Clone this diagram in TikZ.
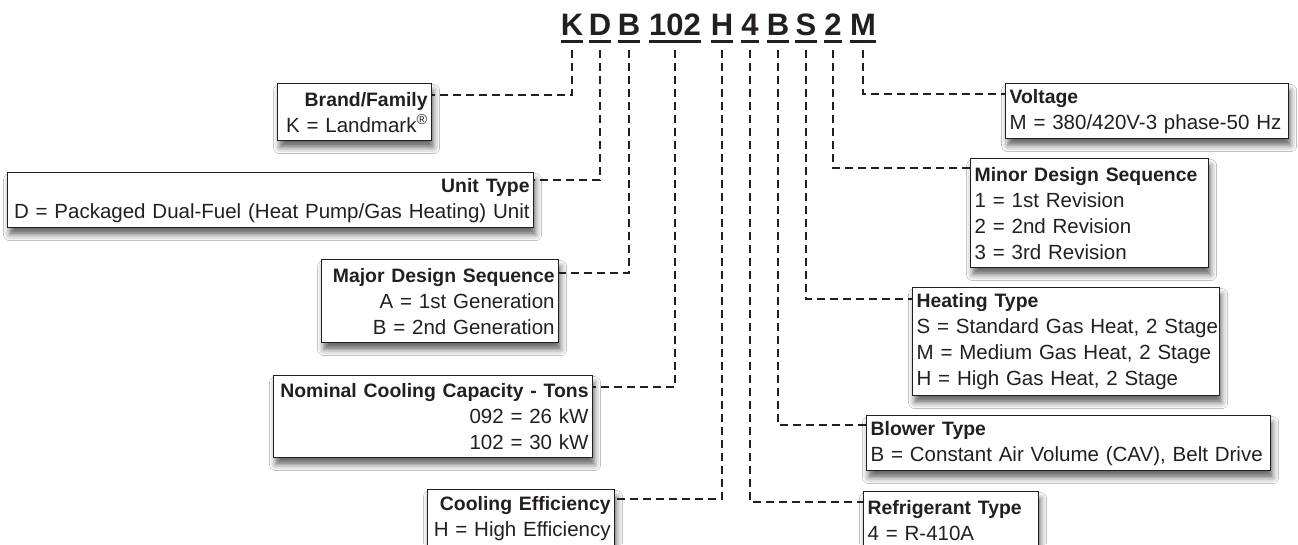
\documentclass[tikz,border=0pt]{standalone}
\usepackage{fontspec}
\setmainfont{Liberation Sans}
\usepackage{tikz}
\tikzset{x=1pt,y=-1pt}
\usetikzlibrary{calc, shadows.blur}

\definecolor{ink}{HTML}{231F20}
\newcommand{\hd}[1]{\mbox{\bfseries\fontsize{19.4}{26}\selectfont #1}}
\newcommand{\tln}[1]{\mbox{#1}}

\tikzset{
  code/.style={font=\bfseries\fontsize{31}{31}\selectfont, text=ink, inner sep=0pt, anchor=base},
  uline/.style={draw=ink, line width=3pt},
  leader/.style={draw=ink, line width=2.4pt, dash pattern=on 8pt off 5pt},
  box/.style={draw=ink, line width=1.2pt, fill=white, text=ink,
    inner xsep=4pt, inner ysep=2pt, anchor=north west,
    font=\fontsize{20.5}{26}\selectfont,
    blur shadow={shadow xshift=2pt, shadow yshift=-7pt, shadow blur radius=6pt, shadow opacity=60}},
  lbox/.style={box, align=right},
  rbox/.style={box, align=left}
}

\begin{document}
\begin{tikzpicture}
\path[use as bounding box, fill=white] (0,0) rectangle (1298,544);

% model number
\node[code] (cK) at (572,35) {K};
\node[code] (cD) at (600,35) {D};
\node[code] (cB) at (629,35) {B};
\node[code] (cNum) at (675,35) {102};
\node[code] (cH) at (722,35) {H};
\node[code] (cFour) at (750,35) {4};
\node[code] (cBl) at (778,35) {B};
\node[code] (cS) at (806,35) {S};
\node[code] (cTwo) at (833,35) {2};
\node[code] (cM) at (863,35) {M};
\foreach \c in {cK,cD,cB,cNum,cH,cFour,cBl,cS,cTwo,cM}
  \draw[uline] ([yshift=-6pt]\c.base west) -- ([yshift=-6pt]\c.base east);

% left side
\node[lbox, text width=146pt, minimum height=57pt] (brand) at (277,83)
  {\hd{Brand/Family}\\ \tln{K = Landmark\textsuperscript{®}}};
\node[lbox, text width=518pt, minimum height=55pt] (unit) at (7,172)
  {\hd{Unit Type}\\ \tln{D = Packaged Dual-Fuel (Heat Pump/Gas Heating) Unit}};
\node[lbox, text width=229pt, minimum height=83pt] (major) at (321,259)
  {\hd{Major Design Sequence}\\ \tln{A = 1st Generation}\\ \tln{B = 2nd Generation}};
\node[lbox, text width=311pt, minimum height=82pt] (nominal) at (273,375)
  {\hd{Nominal Cooling Capacity - Tons}\\ \tln{092 = 26 kW}\\ \tln{102 = 30 kW}};
\node[lbox, text width=179pt, minimum height=57pt] (cooling) at (427,489)
  {\hd{Cooling Efficiency}\\ \tln{H = High Efficiency}};

% right side
\node[rbox, text width=275pt, minimum height=55pt] (voltage) at (1005,83)
  {\hd{Voltage}\\ \tln{M = 380/420V-3 phase-50 Hz}};
\node[rbox, text width=230pt, minimum height=109pt] (minor) at (970,158)
  {\hd{Minor Design Sequence}\\ \tln{1 = 1st Revision}\\ \tln{2 = 2nd Revision}\\ \tln{3 = 3rd Revision}};
\node[rbox, text width=299pt, minimum height=108pt] (heating) at (912,287)
  {\hd{Heating Type}\\ \tln{S = Standard Gas Heat, 2 Stage}\\ \tln{M = Medium Gas Heat, 2 Stage}\\ \tln{H = High Gas Heat, 2 Stage}};
\node[rbox, text width=396pt, minimum height=55pt] (blower) at (866,415)
  {\hd{Blower Type}\\ \tln{B = Constant Air Volume (CAV), Belt Drive}};
\node[rbox, text width=167pt, minimum height=57pt] (refrig) at (863,491)
  {\hd{Refrigerant Type}\\ \tln{4 = R-410A}};

% leaders
\draw[leader] ([yshift=-15pt]cK.base) |- ([yshift=-12pt]brand.north east);
\draw[leader] ([yshift=-15pt]cD.base) |- ([yshift=-8pt]unit.north east);
\draw[leader] ([yshift=-15pt]cB.base) |- ([yshift=-14pt]major.north east);
\draw[leader] ([yshift=-15pt]cNum.base) |- ([yshift=-12pt]nominal.north east);
\draw[leader] ([yshift=-15pt]cH.base) |- ([yshift=-10pt]cooling.north east);
\draw[leader] ([yshift=-15pt]cFour.base) |- ([yshift=-11pt]refrig.north west);
\draw[leader] ([yshift=-15pt]cBl.base) |- ([yshift=-10pt]blower.north west);
\draw[leader] ([yshift=-15pt]cS.base) |- ([yshift=-12pt]heating.north west);
\draw[leader] ([yshift=-15pt]cTwo.base) |- ([yshift=-10pt]minor.north west);
\draw[leader] ([yshift=-15pt]cM.base) |- ([yshift=-11pt]voltage.north west);
\end{tikzpicture}
\end{document}
